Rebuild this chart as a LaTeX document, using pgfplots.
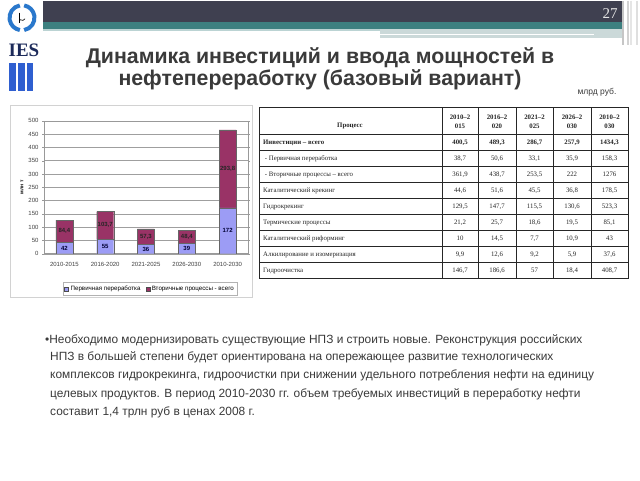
\documentclass[border=0pt]{standalone}
\usepackage{fontspec}
\setmainfont{Liberation Sans}
\newfontfamily\serif{Liberation Serif}
\usepackage{pgfplots}
\pgfplotsset{compat=1.18}
\definecolor{prim}{HTML}{9C9CF5}
\definecolor{sec}{HTML}{993366}
\definecolor{hdr}{HTML}{3F4050}
\definecolor{tealb}{HTML}{3D8080}
\definecolor{txt}{HTML}{3A3A3A}
\definecolor{logob}{HTML}{2A78CC}
\definecolor{logod}{HTML}{1C2A5A}
\definecolor{barsb}{HTML}{2F5FD0}
\newcommand\tr[7]{%
  \node[anchor=west] at (263pt,-#1pt) {#2};
  \node at (460pt,-#1pt) {#3};
  \node at (497pt,-#1pt) {#4};
  \node at (534.5pt,-#1pt) {#5};
  \node at (572pt,-#1pt) {#6};
  \node at (609.5pt,-#1pt) {#7};
}
\begin{document}
\begin{tikzpicture}
% page
\fill[white] (0pt,0pt) rectangle (640pt,-480pt);
% header
\fill[hdr] (43pt,0pt) rectangle (622pt,-21pt);
\fill[tealb] (43pt,-21pt) rectangle (622pt,-28pt);
\fill[tealb!35] (43pt,-28pt) rectangle (622pt,-30pt);
\fill[gray!30!tealb!30] (380pt,-28pt) rectangle (622pt,-37pt);
\draw[white, line width=1.2pt] (380pt,-34pt) -- (594pt,-34pt);
\foreach \x/\c in {623/gray!45,625.5/white,628/gray!35,631/gray!20,634/white,637/gray!25}
  \draw[\c, line width=1.5pt] (\x pt,0pt) -- (\x pt,-44pt);
\node[text=white!90!black, font=\serif\fontsize{15}{15}\selectfont] at (610pt,-13pt) {27};
% logo
\fill[white] (0pt,0pt) rectangle (43pt,-95pt);
\draw[logob, line width=4pt] (22pt,-17pt) ++(100:12.5pt) arc[start angle=100, end angle=260, radius=12.5pt];
\draw[logob, line width=4pt] (22pt,-17pt) ++(-80:12.5pt) arc[start angle=-80, end angle=80, radius=12.5pt];
\draw[black, line width=0.6pt] (19.5pt,-12pt) -- (19.5pt,-22pt);
\draw[black, line width=0.6pt] (19.5pt,-20pt) .. controls (21pt,-17pt) and (22pt,-22pt) .. (25pt,-18pt);
\node[text=logod, font=\serif\bfseries\fontsize{19}{19}\selectfont] at (24pt,-50pt) {IES};
\fill[barsb] (9pt,-62pt) rectangle (16pt,-90pt);
\fill[barsb] (18pt,-62pt) rectangle (25pt,-90pt);
\fill[barsb] (27pt,-62pt) rectangle (33pt,-90pt);
% title
\node[text=txt, font=\bfseries\fontsize{21.3}{24}\selectfont] at (320pt,-57pt) {Динамика инвестиций и ввода мощностей в};
\node[text=txt, font=\bfseries\fontsize{21.3}{24}\selectfont] at (320pt,-79pt) {нефтепереработку (базовый вариант)};
\node[text=txt, font=\fontsize{8.5}{10}\selectfont] at (597pt,-92pt) {млрд руб.};
% chart frame
\draw[gray!35, line width=0.6pt] (10pt,-105pt) rectangle (252pt,-297pt);
\begin{axis}[
  at={(44pt,-253pt)}, anchor=south west,
  scale only axis, width=204pt, height=133pt,
  ybar stacked, bar width=17pt,
  xmin=-0.5, xmax=4.5, ymin=0, ymax=500,
  ytick={0,50,...,500},
  xtick={0,1,2,3,4},
  xticklabels={2010-2015,2016-2020,2021-2025,2026-2030,2010-2030},
  ymajorgrids, major grid style={gray!75, line width=0.4pt},
  axis line style={gray!80, line width=0.5pt},
  xtick style={draw=none},
  ytick style={draw=gray!80},
  tick align=outside, major tick length=2pt,
  tick label style={font=\fontsize{6}{7}\selectfont, text=black!75},
  xticklabel style={yshift=-3pt},
  /pgf/number format/assume math mode=true,
  /pgf/number format/1000 sep={},
  ylabel={млн т},
  ylabel style={font=\bfseries\fontsize{5}{6}\selectfont, at={(axis description cs:-0.108,0.5)}, anchor=center},
  legend style={at={(axis description cs:0.52,-0.263)}, anchor=center,
    legend columns=2, font=\fontsize{6.2}{7}\selectfont, draw=gray!60,
    inner sep=1.5pt, /tikz/every even column/.append style={column sep=3pt}},
  legend image code/.code={\draw[#1, draw=black!70] (0pt,-2pt) rectangle (4pt,2pt);},
]
\addplot[fill=prim, draw=black!60, line width=0.3pt] coordinates {(0,42) (1,55) (2,36) (3,39) (4,172)};
\addplot[fill=sec, draw=black!60, line width=0.3pt] coordinates {(0,84.4) (1,103.7) (2,57.3) (3,48.4) (4,293.8)};
\legend{Первичная переработка, Вторичные процессы - всего}
\end{axis}
\begin{axis}[
  at={(44pt,-253pt)}, anchor=south west,
  scale only axis, width=204pt, height=133pt,
  xmin=-0.5, xmax=4.5, ymin=0, ymax=500, hide axis, clip=false,
]
\addplot[draw=none, mark=none, nodes near coords, point meta=explicit symbolic,
  nodes near coords style={anchor=center, font=\bfseries\fontsize{6}{7}\selectfont, text=black!80!blue}]
  coordinates {(0,21)[42] (1,27.5)[55] (2,18)[36] (3,19.5)[39] (4,86)[172]};
\addplot[draw=none, mark=none, nodes near coords, point meta=explicit symbolic,
  nodes near coords style={anchor=center, font=\bfseries\fontsize{6}{7}\selectfont, text=black!85}]
  coordinates {(0,84.2)[84,4] (1,106.85)[103,7] (2,64.65)[57,3] (3,63.2)[48,4] (4,318.9)[293,8]};
\end{axis}
% table
\begin{scope}[every node/.style={inner sep=0pt, font=\serif\fontsize{6.8}{8}\selectfont, text=black!85}]
\draw[black!85, line width=0.7pt] (259pt,-107pt) rectangle (628pt,-278pt);
\foreach \y in {134,150,166,182,198,214,230,246,262}
  \draw[black!85, line width=0.7pt] (259pt,{-\y pt}) -- (628pt,{-\y pt});
\foreach \x in {442,478,516,553,591}
  \draw[black!85, line width=0.7pt] ({\x pt},-107pt) -- ({\x pt},-278pt);
\node[font=\serif\bfseries\fontsize{6.8}{8}\selectfont] at (350pt,-125pt) {Процесс};
\node[font=\serif\bfseries\fontsize{6.8}{8.5}\selectfont, align=center] at (460pt,-121pt) {2010–2\\015};
\node[font=\serif\bfseries\fontsize{6.8}{8.5}\selectfont, align=center] at (497pt,-121pt) {2016–2\\020};
\node[font=\serif\bfseries\fontsize{6.8}{8.5}\selectfont, align=center] at (534.5pt,-121pt) {2021–2\\025};
\node[font=\serif\bfseries\fontsize{6.8}{8.5}\selectfont, align=center] at (572pt,-121pt) {2026–2\\030};
\node[font=\serif\bfseries\fontsize{6.8}{8.5}\selectfont, align=center] at (609.5pt,-121pt) {2010–2\\030};
\begin{scope}[every node/.append style={font=\serif\bfseries\fontsize{6.8}{8}\selectfont}]
\tr{142}{Инвестиции – всего}{400,5}{489,3}{286,7}{257,9}{1434,3}
\end{scope}
\tr{158}{\ - Первичная переработка}{38,7}{50,6}{33,1}{35,9}{158,3}
\tr{174}{\ - Вторичные процессы – всего}{361,9}{438,7}{253,5}{222}{1276}
\tr{190}{Каталитический крекинг}{44,6}{51,6}{45,5}{36,8}{178,5}
\tr{206}{Гидрокрекинг}{129,5}{147,7}{115,5}{130,6}{523,3}
\tr{222}{Термические процессы}{21,2}{25,7}{18,6}{19,5}{85,1}
\tr{238}{Каталитический риформинг}{10}{14,5}{7,7}{10,9}{43}
\tr{254}{Алкилирование и изомеризация}{9,9}{12,6}{9,2}{5,9}{37,6}
\tr{270}{Гидроочистка}{146,7}{186,6}{57}{18,4}{408,7}
\end{scope}
% body text
\begin{scope}[every node/.style={anchor=west, inner sep=0pt, text=txt, font=\fontsize{11.9}{13}\selectfont}]
\node at (45pt,-340pt) {•Необходимо модернизировать существующие НПЗ и строить новые. Реконструкция российских};
\node at (50pt,-357pt) {НПЗ в большей степени будет ориентирована на опережающее развитие технологических};
\node at (50pt,-375pt) {комплексов гидрокрекинга, гидроочистки при снижении удельного потребления нефти на единицу};
\node at (50pt,-394pt) {целевых продуктов. В период 2010-2030 гг. объем требуемых инвестиций в переработку нефти};
\node at (50pt,-412pt) {составит 1,4 трлн руб в ценах 2008 г.};
\end{scope}
\end{tikzpicture}
\end{document}
